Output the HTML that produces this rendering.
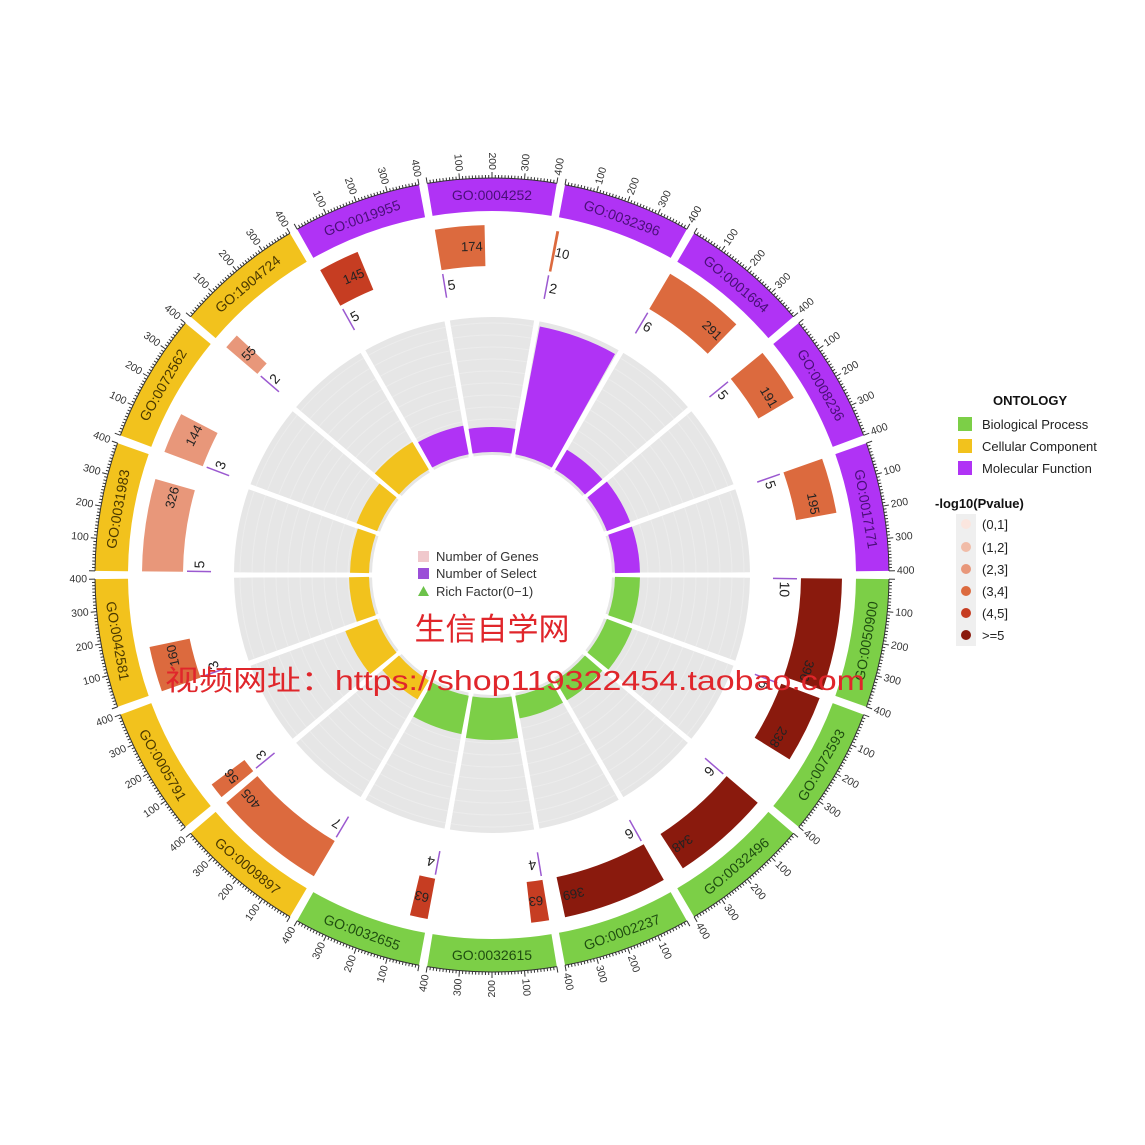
<!DOCTYPE html>
<html><head><meta charset="utf-8">
<style>
html,body{margin:0;padding:0;background:#fff;}
svg{display:block;font-family:"Liberation Sans","Noto Sans CJK SC",sans-serif;}
</style></head>
<body>
<svg id="s" width="1145" height="1145" viewBox="0 0 1145 1145" xmlns="http://www.w3.org/2000/svg">
<rect width="1145" height="1145" fill="#fff"/>
<g id="g"></g>
<!-- center legend -->
<rect x="418" y="551" width="11" height="11" fill="#f0c8cc"/>
<text x="436" y="561" font-size="13" fill="#333">Number of Genes</text>
<rect x="418" y="568" width="11" height="11" fill="#9b4fd8"/>
<text x="436" y="578" font-size="13" fill="#333">Number of Select</text>
<polygon points="418,596 429,596 423.5,586" fill="#6cc24a"/>
<text x="436" y="596" font-size="13" fill="#333">Rich Factor(0−1)</text>
<!-- watermark -->
<text x="492" y="640" font-size="31" fill="#e0262b" text-anchor="middle" font-family="'Noto Sans CJK SC',sans-serif">生信自学网</text>
<text x="165" y="690" font-size="28" fill="#e0262b" textLength="700" lengthAdjust="spacingAndGlyphs" font-family="'Liberation Sans','Noto Sans CJK SC',sans-serif">视频网址：https://shop119322454.taobao.com</text>
<!-- right legend -->
<text x="993" y="405" font-size="13" font-weight="bold" fill="#111">ONTOLOGY</text>
<rect x="958" y="417" width="14" height="14" fill="#7ccf47"/><text x="982" y="429" font-size="13" fill="#222">Biological Process</text>
<rect x="958" y="439" width="14" height="14" fill="#f2c21d"/><text x="982" y="451" font-size="13" fill="#222">Cellular Component</text>
<rect x="958" y="461" width="14" height="14" fill="#b033f5"/><text x="982" y="473" font-size="13" fill="#222">Molecular Function</text>
<text x="935" y="508" font-size="13" font-weight="bold" fill="#111">-log10(Pvalue)</text>
<rect x="956" y="514" width="20" height="132" fill="#efefef"/>
<circle cx="966" cy="524" r="5" fill="#fbe6df"/><text x="982" y="529" font-size="13" fill="#222">(0,1]</text>
<circle cx="966" cy="547" r="5" fill="#f1bca8"/><text x="982" y="552" font-size="13" fill="#222">(1,2]</text>
<circle cx="966" cy="569" r="5" fill="#e8977a"/><text x="982" y="574" font-size="13" fill="#222">(2,3]</text>
<circle cx="966" cy="591" r="5" fill="#dc6a3e"/><text x="982" y="596" font-size="13" fill="#222">(3,4]</text>
<circle cx="966" cy="613" r="5" fill="#c63d22"/><text x="982" y="618" font-size="13" fill="#222">(4,5]</text>
<circle cx="966" cy="635" r="5" fill="#8a1a0d"/><text x="982" y="640" font-size="13" fill="#222">&gt;=5</text>
</svg>
<script>
(function(){
var cx=492, cy=575;
var D=[
["GO:0004252","M",174,3,5,148],
["GO:0032396","M",10,3,2,253],
["GO:0001664","M",291,3,6,146],
["GO:0008236","M",191,3,5,148],
["GO:0017171","M",195,3,5,148],
["GO:0050900","B",396,5,10,148],
["GO:0072593","B",238,5,6,150],
["GO:0032496","B",348,5,6,146],
["GO:0002237","B",369,5,6,146],
["GO:0032615","B",63,4,4,165],
["GO:0032655","B",63,4,4,162],
["GO:0009897","C",405,3,7,145],
["GO:0005791","C",56,3,3,157],
["GO:0042581","C",160,3,3,143],
["GO:0031983","C",326,2,5,142],
["GO:0072562","C",144,2,3,145],
["GO:1904724","C",55,2,2,155],
["GO:0019955","M",145,4,5,152]];
var OC={M:"#b033f5",B:"#7ccf47",C:"#f2c21d"};
var TC={M:"#4a0f78",B:"#1f4d10",C:"#4a3800"};
var PC={2:"#e8977a",3:"#dc6a3e",4:"#c63d22",5:"#8a1a0d"};
function pt(r,a){var t=a*Math.PI/180;return [cx+r*Math.sin(t),cy-r*Math.cos(t)];}
function f(n){return n.toFixed(2);}
function arc(r1,r2,a1,a2,fill){
 var p1=pt(r2,a1),p2=pt(r2,a2),p3=pt(r1,a2),p4=pt(r1,a1);var lg=(a2-a1)>180?1:0;
 return '<path d="M'+f(p1[0])+' '+f(p1[1])+'A'+r2+' '+r2+' 0 '+lg+' 1 '+f(p2[0])+' '+f(p2[1])+'L'+f(p3[0])+' '+f(p3[1])+'A'+r1+' '+r1+' 0 '+lg+' 0 '+f(p4[0])+' '+f(p4[1])+'Z" fill="'+fill+'"/>';}
function txt(r,a,rot,s,attrs){var p=pt(r,a);return '<text x="'+f(p[0])+'" y="'+f(p[1])+'" transform="rotate('+f(rot)+' '+f(p[0])+' '+f(p[1])+')" dominant-baseline="central" '+attrs+'>'+s+'</text>';}
function norm(a){a=a%360;if(a<0)a+=360;return a;}
var o='';
for(var i=0;i<18;i++){var st=-10+20*i;o+=arc(120,258,st+0.6,st+19.4,"#e6e6e6");}
for(var r=132;r<258;r+=12){o+='<circle cx="'+cx+'" cy="'+cy+'" r="'+r+'" fill="none" stroke="#ececec" stroke-width="1"/>';}
for(var i=0;i<18;i++){var st=-10+20*i;var a=pt(119,st),b=pt(260,st);o+='<line x1="'+f(a[0])+'" y1="'+f(a[1])+'" x2="'+f(b[0])+'" y2="'+f(b[1])+'" stroke="#fff" stroke-width="5"/>';}
for(var i=0;i<18;i++){
 var d=D[i],st=-10+20*i,s0=st+0.6,span=18.8,col=OC[d[1]];
 o+=arc(123,d[5],st+0.9,st+19.1,col);
 o+=arc(364,397,s0,s0+span,col);
 var c=st+10,nc=norm(c);var rot=(nc>90&&nc<270)?c+180:c;
 o+=txt(380,c,rot,d[0],'font-size="14" text-anchor="middle" fill="'+TC[d[1]]+'"');
 var p1=pt(397,s0),p2=pt(397,s0+span);
 o+='<path d="M'+f(p1[0])+' '+f(p1[1])+'A397 397 0 0 1 '+f(p2[0])+' '+f(p2[1])+'" fill="none" stroke="#333" stroke-width="1"/>';
 for(var v=0;v<=400;v+=10){var a=s0+v/400*span;var L=(v%100==0)?6:3;var q1=pt(397,a),q2=pt(397+L,a);
  o+='<line x1="'+f(q1[0])+'" y1="'+f(q1[1])+'" x2="'+f(q2[0])+'" y2="'+f(q2[1])+'" stroke="#333" stroke-width="1"/>';}
 for(var v=100;v<=400;v+=100){var a=s0+v/400*span;var na=norm(a);
  if(na>0&&na<180)o+=txt(405,a,a-90,v,'font-size="10.5" text-anchor="start" fill="#333"');
  else o+=txt(405,a,a+90,v,'font-size="10.5" text-anchor="end" fill="#333"');}
 var ge=Math.min(d[2],400);var be=s0+ge/400*span;
 o+=arc(309,350,s0,be,PC[d[3]]);
 var tw=String(d[2]).length*7.4/329*57.3;
 var ae=Math.max(be-0.4,s0+tw+0.4);
 o+=txt(329,ae,ae,d[2],'font-size="13" text-anchor="end" fill="#222"');
 var la=s0+0.1;var q1=pt(281,la),q2=pt(305,la);
 o+='<line x1="'+f(q1[0])+'" y1="'+f(q1[1])+'" x2="'+f(q2[0])+'" y2="'+f(q2[1])+'" stroke="#9b59d0" stroke-width="1.5"/>';
 o+=txt(293,s0+0.7,s0+0.7,d[4],'font-size="14" text-anchor="start" fill="#222"');
}
o+='<circle cx="'+cx+'" cy="'+cy+'" r="118" fill="#fff"/>';
document.getElementById('g').innerHTML=o;
})();
</script>
</body></html>
